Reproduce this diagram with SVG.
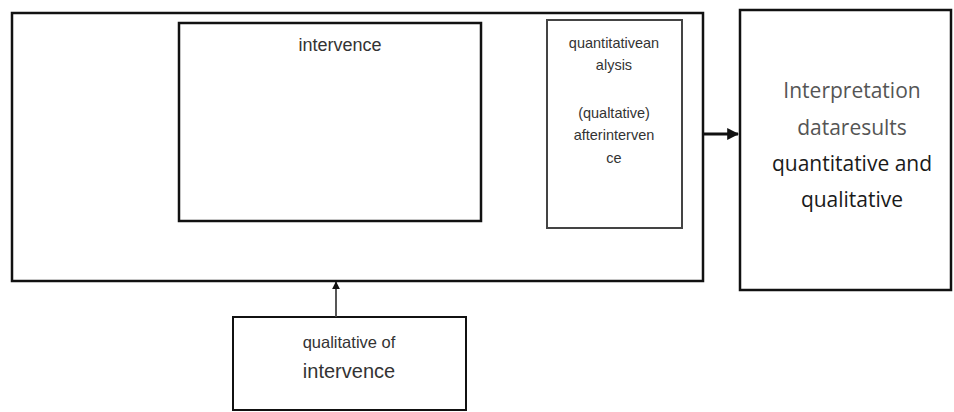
<svg xmlns="http://www.w3.org/2000/svg" width="954" height="412" viewBox="0 0 954 412">
<defs>
<style>
.box{fill:#fff;stroke:#111;}
.a{font-family:"Liberation Sans",Arial,sans-serif;fill:#333;text-anchor:middle;}
.c{font-family:"Open Sans","Noto Sans",sans-serif;text-anchor:middle;font-size:21px;}
.conn{fill:none;stroke:#111;}
</style>
<marker id="ah" viewBox="0 0 10 10" refX="9" refY="5" markerWidth="4.5" markerHeight="4.5" orient="auto" markerUnits="strokeWidth"><path d="M0,0 L10,5 L0,10 z" fill="#111"/></marker>
<marker id="ah2" viewBox="0 0 10 10" refX="9" refY="5" markerWidth="4" markerHeight="4" orient="auto" markerUnits="strokeWidth"><path d="M0,0 L10,5 L0,10 z" fill="#111"/></marker>
</defs>
<rect width="954" height="412" fill="#fff"/>
<g id="outer">
<rect class="box" x="12" y="13" width="691" height="268" stroke-width="2.5"/>
</g>
<g id="intervence">
<rect class="box" x="179" y="23" width="302" height="198" stroke-width="2.5"/>
<text class="a" x="340" y="51" font-size="18">intervence</text>
</g>
<g id="quantitative">
<rect class="box" x="547" y="20" width="135" height="208" stroke-width="2" style="stroke:#444"/>
<text class="a" font-size="14.5" x="614" y="48">quantitativean</text>
<text class="a" font-size="14.5" x="614" y="70">alysis</text>
<text class="a" font-size="14.5" x="614" y="118">(qualtative)</text>
<text class="a" font-size="14.5" x="614" y="140">afterinterven</text>
<text class="a" font-size="14.5" x="614" y="163">ce</text>
</g>
<g id="interpretation">
<rect class="box" x="740" y="10" width="211" height="280" stroke-width="2.5"/>
<text class="c" x="852" y="98" fill="#555">Interpretation</text>
<text class="c" x="852" y="135" fill="#555">dataresults</text>
<text class="c" x="852" y="171" fill="#1a1a1a">quantitative and</text>
<text class="c" x="852" y="207" fill="#1a1a1a">qualitative</text>
</g>
<g id="qualitative">
<rect class="box" x="233" y="317" width="233" height="93" stroke-width="2"/>
<text class="a" x="349" y="348" font-size="16.5">qualitative of</text>
<text class="a" x="349" y="378" font-size="20">intervence</text>
</g>
<g id="connectors">
<line class="conn" x1="703" y1="134" x2="738" y2="134" stroke-width="3" marker-end="url(#ah2)"/>
<line class="conn" x1="336" y1="317" x2="336" y2="282" stroke-width="1.8" marker-end="url(#ah)" style="stroke:#444"/>
</g>
</svg>
